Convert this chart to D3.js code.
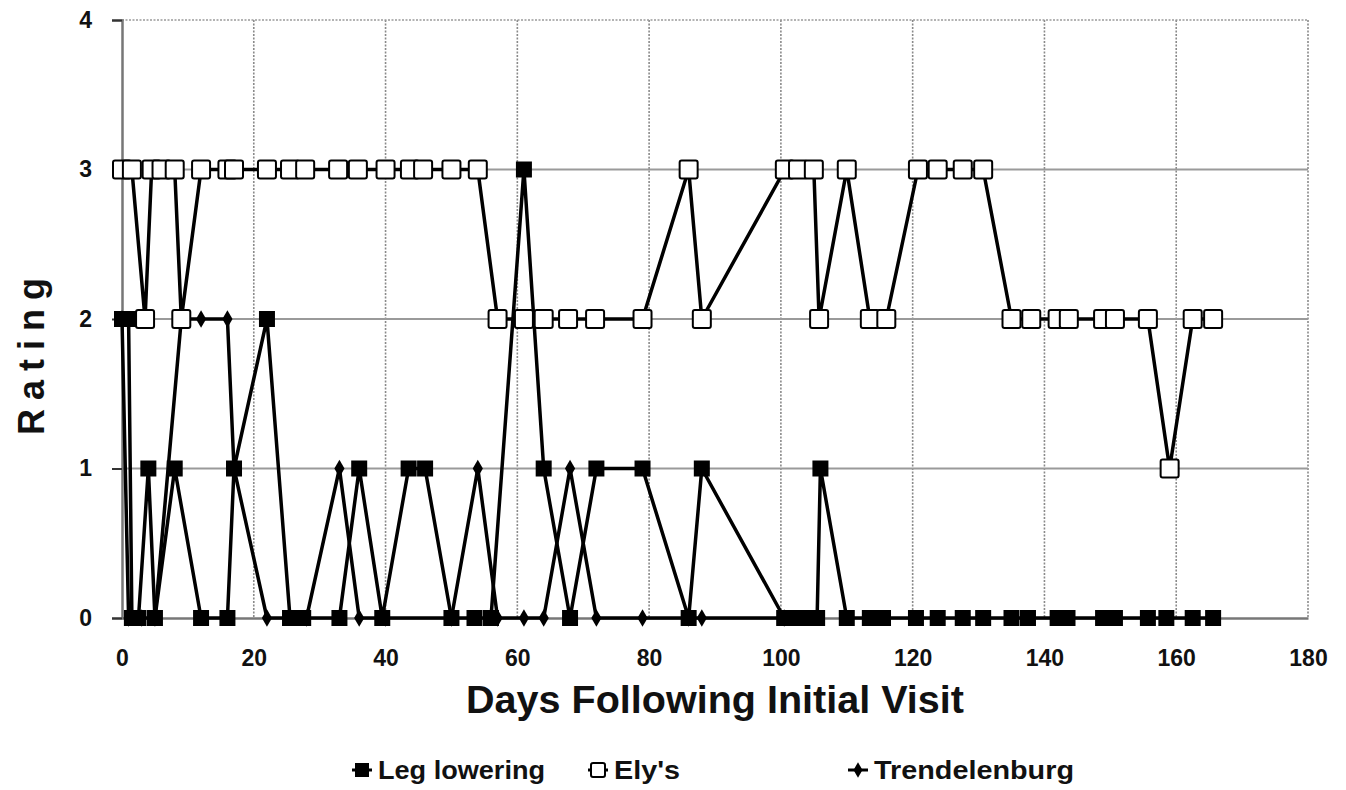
<!DOCTYPE html>
<html lang="en">
<head>
    <meta charset="UTF-8">
    <title>rating chart</title>
    <script src="https://cdn.jsdelivr.net/npm/d3@7/dist/d3.min.js"></script>
    <style>
        *{
            padding: 0;
            margin: 0;
        }
        body{
            background: #fff;
        }
        svg text{
            font-family: "Liberation Sans", Arial, sans-serif;
            font-weight: bold;
            fill: #111;
        }
    </style>
</head>
<body>
<script>
    // days / ratings
    let legDays   = [0,1,1.5,2.5,4,5,8,12,16,17,22,25.5,27.5,33,36,39.5,43.5,46,50,53.5,56,61,64,68,72,79,86,88,100.5,102.5,104.5,105.5,106,110,113.5,115.5,120.5,123.8,127.6,130.7,135,137.5,142,143.5,148.9,150.7,155.7,158.5,162.5,165.6];
    let legRating = [2,2,0,0,1,0,1,0,0,1,2,0,0,0,1,0,1,1,0,0,0,3,1,0,1,1,0,1,0,0,0,0,1,0,0,0,0,0,0,0,0,0,0,0,0,0,0,0,0,0];

    let elyDays   = [0,1.5,3.5,4.5,6,8,9,12,16,17,22,25.5,27.8,32.8,35.8,40,43.7,45.7,50,54,57,61,64,67.7,71.8,79,86,88,100.6,102.6,105,105.8,110,113.5,116,120.8,123.8,127.6,130.7,135,138,142,143.7,148.9,150.7,155.7,159,162.5,165.6];
    let elyRating = [3,3,2,3,3,3,2,3,3,3,3,3,3,3,3,3,3,3,3,3,2,2,2,2,2,2,3,2,3,3,3,2,3,2,2,3,3,3,3,2,2,2,2,2,2,2,1,2,2];

    let trendDays   = [0,1,3,5,9,12,16,17,22,28,33,36,40,50,54,57,61,64,68,72,79,86,88,100.5];
    let trendRating = [2,0,0,0,2,2,2,1,0,0,1,0,0,0,1,0,0,0,1,0,0,0,0,0];

    let xTicks = [0,20,40,60,80,100,120,140,160,180];
    let yTicks = [0,1,2,3,4];
    let seriesNames = ["Leg lowering","Ely's","Trendelenburg"];

    let W = 1346, H = 790;
    let mLeft = 122, mRight = 1308, mTop = 20, mBottom = 618;

    let svg = d3.select("body").append("svg")
        .attr("width", W)
        .attr("height", H);

    let x = d3.scaleLinear().domain([0,180]).range([mLeft,mRight]);
    let y = d3.scaleLinear().domain([0,4]).range([mBottom,mTop]);

    // grid
    let grid = svg.append("g");
    grid.selectAll("line.v").data(xTicks.slice(1)).enter().append("line")
        .attr("x1", d => x(d)).attr("x2", d => x(d))
        .attr("y1", mTop).attr("y2", mBottom)
        .attr("stroke", "#8a8a8a")
        .attr("stroke-width", 1.6)
        .attr("stroke-dasharray", "2,1.5");
    grid.selectAll("line.h").data(yTicks.slice(1)).enter().append("line")
        .attr("x1", mLeft).attr("x2", mRight)
        .attr("y1", d => y(d)).attr("y2", d => y(d))
        .attr("stroke", "#9a9a9a")
        .attr("stroke-width", d => d === 4 ? 1.6 : 2)
        .attr("stroke-dasharray", d => d === 4 ? "2,1.5" : null);

    // axes
    let xAxis = svg.append("g")
        .attr("transform", "translate(0," + mBottom + ")")
        .call(d3.axisBottom(x).tickValues(xTicks).tickSize(0).tickPadding(32));
    let yAxis = svg.append("g")
        .attr("transform", "translate(" + mLeft + ",0)")
        .call(d3.axisLeft(y).tickValues(yTicks).tickFormat(d3.format("d")).tickSize(10).tickPadding(20));
    [xAxis, yAxis].forEach(function (a) {
        a.select(".domain").attr("stroke", "#777").attr("stroke-width", 2.5);
        a.selectAll(".tick line").attr("stroke", "#333").attr("stroke-width", 2);
        a.selectAll("text").attr("font-size", 23).style("font-weight", "bold").attr("fill", "#111");
    });

    // titles
    svg.append("text")
        .attr("x", 715).attr("y", 713)
        .attr("text-anchor", "middle")
        .attr("font-size", 38)
        .attr("textLength", 498)
        .attr("lengthAdjust", "spacingAndGlyphs")
        .text("Days Following Initial Visit");
    svg.append("text")
        .attr("transform", "translate(44,352) rotate(-90)")
        .attr("text-anchor", "middle")
        .attr("font-size", 36)
        .attr("letter-spacing", 9)
        .text("Rating");

    // lines + markers
    function series(days, vals) {
        return days.map(function (d, i) { return {d: d, v: vals[i]}; });
    }
    let leg = series(legDays, legRating);
    let ely = series(elyDays, elyRating);
    let tre = series(trendDays, trendRating);

    let line = d3.line().x(p => x(p.d)).y(p => y(p.v));
    [tre, leg, ely].forEach(function (s) {
        svg.append("path").datum(s)
            .attr("d", line)
            .attr("fill", "none")
            .attr("stroke", "#000")
            .attr("stroke-width", 3.5)
            .attr("stroke-linejoin", "round");
    });

    function drawDiamond(g, data, sz) {
        g.selectAll("path.dm").data(data).enter().append("path")
            .attr("d", d3.symbol(d3.symbolDiamond, sz))
            .attr("transform", p => "translate(" + x(p.d) + "," + y(p.v) + ")")
            .attr("fill", "#000");
    }
    function drawFilled(g, data, s) {
        g.selectAll("rect.f").data(data).enter().append("rect")
            .attr("x", p => x(p.d) - s/2).attr("y", p => y(p.v) - s/2)
            .attr("width", s).attr("height", s)
            .attr("fill", "#000");
    }
    function drawOpen(g, data, s) {
        g.selectAll("rect.o").data(data).enter().append("rect")
            .attr("x", p => x(p.d) - s/2).attr("y", p => y(p.v) - s/2)
            .attr("width", s).attr("height", s)
            .attr("rx", 2)
            .attr("fill", "#fff")
            .attr("stroke", "#000")
            .attr("stroke-width", 2);
    }
    drawDiamond(svg.append("g"), tre, 90);
    drawFilled(svg.append("g"), leg, 16);
    drawOpen(svg.append("g"), ely, 18);

    // legend
    let ly = 770;
    let lg = svg.append("g");
    let legendPos = [362, 598, 858];
    let legendLen = [167, 66, 200];
    lg.append("line").attr("x1", legendPos[0]-10).attr("x2", legendPos[0]+10).attr("y1", ly).attr("y2", ly).attr("stroke", "#000").attr("stroke-width", 3);
    lg.append("rect").attr("x", legendPos[0]-7).attr("y", ly-7).attr("width", 14).attr("height", 14).attr("fill", "#000");
    lg.append("line").attr("x1", legendPos[1]-10).attr("x2", legendPos[1]+10).attr("y1", ly).attr("y2", ly).attr("stroke", "#000").attr("stroke-width", 3);
    lg.append("rect").attr("x", legendPos[1]-7).attr("y", ly-7).attr("width", 14).attr("height", 14).attr("rx", 2).attr("fill", "#fff").attr("stroke", "#000").attr("stroke-width", 2);
    lg.append("line").attr("x1", legendPos[2]-10).attr("x2", legendPos[2]+10).attr("y1", ly).attr("y2", ly).attr("stroke", "#000").attr("stroke-width", 3);
    lg.append("path").attr("d", d3.symbol(d3.symbolDiamond, 70)).attr("transform", "translate(" + legendPos[2] + "," + ly + ")").attr("fill", "#000");
    lg.selectAll("text").data(seriesNames).enter().append("text")
        .attr("x", (d, i) => legendPos[i] + 16)
        .attr("y", ly + 9)
        .attr("font-size", 26)
        .attr("textLength", (d, i) => legendLen[i])
        .attr("lengthAdjust", "spacingAndGlyphs")
        .text(d => d);
</script>
</body>
</html>
